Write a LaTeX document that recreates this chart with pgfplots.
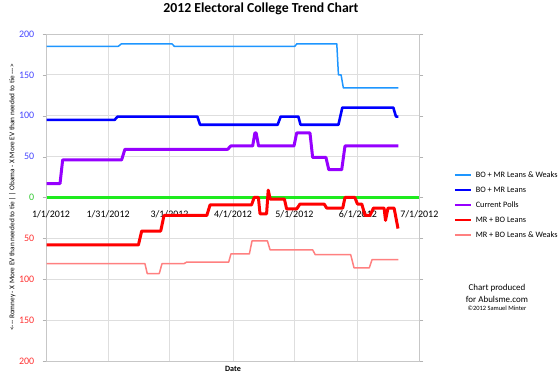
\documentclass[border=0pt]{standalone}
\usepackage{pgfplots}
\pgfplotsset{compat=1.18}
\usepackage{fontspec}
\setmainfont{Carlito}
\definecolor{lw}{RGB}{30,150,255}
\definecolor{ln}{RGB}{0,0,255}
\definecolor{cp}{RGB}{150,0,255}
\definecolor{mrl}{RGB}{255,0,0}
\definecolor{mrw}{RGB}{255,128,128}
\definecolor{zg}{RGB}{30,235,30}
\definecolor{tb}{RGB}{70,70,255}
\definecolor{tr}{RGB}{255,50,50}
\definecolor{tg}{RGB}{50,200,50}
\begin{document}
\begin{tikzpicture}
\useasboundingbox (0,0) rectangle (560bp,379bp);
\begin{axis}[
  at={(46.7bp,18bp)}, anchor=south west,
  scale only axis, width=372.6bp, height=327bp,
  xmin=0, xmax=182, ymin=-200, ymax=200,
  clip=false,
  xtick={0,30,60,91,121,152,182},
  xticklabels={\hspace*{8.6bp}1/1/2012,1/31/2012,3/1/2012,4/1/2012,5/1/2012,6/1/2012,7/1/2012},
  ytick={-200,-150,-100,-50,0,50,100,150,200},
  yticklabels={\textcolor{tr}{200},\textcolor{tr}{150},\textcolor{tr}{100},\textcolor{tr}{50},\textcolor{tg}{0},\textcolor{tb}{50},\textcolor{tb}{100},\textcolor{tb}{150},\textcolor{tb}{200}},
  ticklabel style={font=\fontsize{10}{12}\selectfont},
  xticklabel style={yshift=157.5bp},
  yticklabel style={xshift=-5bp},
  xtick style={draw=none},
  ytick style={color=black!30},
  tick align=outside, major tick length=4bp,
  grid=major, grid style={color=black!13, line width=0.8bp},
  axis line style={color=black!22, line width=0.8bp},
  title={2012 Electoral College Trend Chart},
  title style={at={(axis description cs:0.575,1.058)}, anchor=center, font=\fontsize{13.8}{16}\selectfont\bfseries},
  xlabel={Date},
  xlabel style={at={(axis description cs:0.5,0)}, anchor=north, yshift=-2bp, font=\fontsize{8.1}{10}\selectfont\bfseries},
  ylabel={<-{}-{}- Romney - X More EV than needed to tie | | Obama - X More EV than needed to tie -{}-{}->},
  ylabel style={at={(axis description cs:-0.092,0.5)}, anchor=center, font=\fontsize{7.3}{9}\selectfont},
  legend style={at={(axis description cs:1.085,0.587)}, anchor=north west, draw=none, fill=none,
    font=\fontsize{8.3}{10}\selectfont, row sep=7bp, column sep=4bp,
    nodes={inner sep=0pt, text height=6bp, text depth=2bp}},
  legend cell align=left,
  legend image code/.code={\draw[#1, line width=1.6bp] (0bp,0bp) -- (16bp,0bp);},
  every axis plot/.append style={line join=round},
]
\addplot[zg, line width=3.5bp, forget plot] coordinates {(0,0) (182,0)};
\addplot[lw, line width=1.5bp] coordinates {(0,185) (35,185) (36.5,188) (61.2,188) (62.3,185) (121.2,185) (122.2,188) (141.7,188) (142.5,150) (143.8,150) (144.9,134) (171.8,134)};
\addlegendentry{BO + MR Leans \& Weaks}
\addplot[ln, line width=2.6bp] coordinates {(0,95) (33.2,95) (34.6,99) (73.6,99) (74.9,89) (112.8,89) (114.3,99) (122.9,99) (124,89) (142.5,89) (144.4,110) (169.3,110) (170.6,99) (171.8,99)};
\addlegendentry{BO + MR Leans}
\addplot[cp, line width=3bp] coordinates {(0,17) (6.5,17) (7.8,46) (36.6,46) (38.2,59) (88.4,59) (89.9,63) (100.6,63) (101.7,79) (102.3,79) (103.5,63) (120.8,63) (122.1,79) (128.6,79) (129.9,49) (136.4,49) (137.8,34) (144.1,34) (145.7,63) (171.8,63)};
\addlegendentry{Current Polls}
\addplot[mrl, line width=3bp] coordinates {(0,-58) (44.8,-58) (46.4,-41) (55.7,-41) (57.3,-22) (78.2,-22) (79.8,-9) (100.1,-9) (101.3,0) (103.4,0) (104.2,-20) (107.4,-20) (108.2,9) (109.2,-2) (116.1,-2) (117.2,-14) (122.1,-14) (123.7,-8) (135.5,-8) (136.8,-13) (144.6,-13) (145.7,0) (150.5,0) (151.8,-8) (153.9,-8) (155.5,-22) (157.9,-22) (159.6,-13) (164.8,-13) (165.5,-28) (166.7,-13) (169.7,-13) (171.6,-38)};
\addlegendentry{MR + BO Leans}
\addplot[mrw, line width=1.5bp] coordinates {(0,-81) (48,-81) (49.1,-93) (55,-93) (56.3,-81) (67,-81) (68.4,-79) (88.9,-79) (90,-69) (99,-69) (100.3,-53) (107.8,-53) (109.1,-64) (129.9,-64) (131.2,-70) (148.5,-70) (150.1,-86) (157.6,-86) (158.9,-76) (171.8,-76)};
\addlegendentry{MR + BO Leans \& Weaks}
\node[font=\fontsize{9}{11}\selectfont] at (axis description cs:1.2085,0.2232) {Chart produced};
\node[font=\fontsize{9}{11}\selectfont] at (axis description cs:1.2085,0.1896) {for Abulsme.com};
\node[font=\fontsize{6.5}{8}\selectfont] at (axis description cs:1.2085,0.1621) {©2012 Samuel Minter};
\end{axis}
\end{tikzpicture}
\end{document}
